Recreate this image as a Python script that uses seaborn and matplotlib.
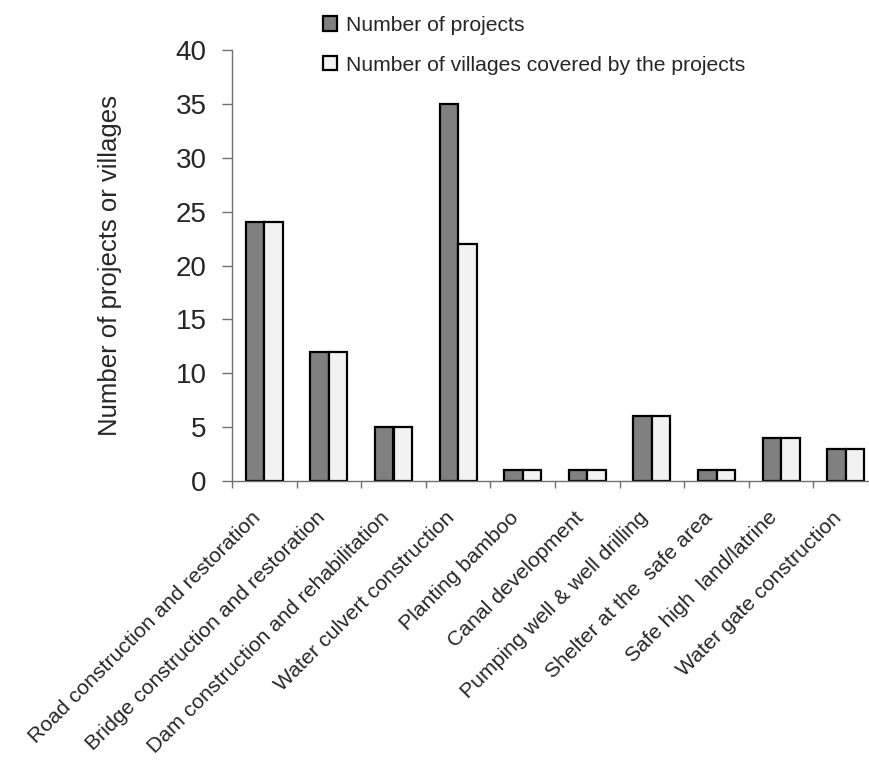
import numpy as np
import pandas as pd
import matplotlib
matplotlib.use("Agg")
import matplotlib.pyplot as plt
import seaborn as sns
from matplotlib.ticker import FixedLocator

categories = [
    "Road construction and restoration",
    "Bridge construction and restoration",
    "Dam construction and rehabilitation",
    "Water culvert construction",
    "Planting bamboo",
    "Canal development",
    "Pumping well & well drilling",
    "Shelter at the  safe area",
    "Safe high  land/latrine",
    "Water gate construction",
]
n_projects = [24, 12, 5, 35, 1, 1, 6, 1, 4, 3]
n_villages = [24, 12, 5, 22, 1, 1, 6, 1, 4, 3]
series_names = ["Number of projects", "Number of villages covered by the projects"]
yticks = [0, 5, 10, 15, 20, 25, 30, 35, 40]

df = pd.DataFrame({
    "activity": categories * 2,
    "count": n_projects + n_villages,
    "series": [series_names[0]] * len(categories) + [series_names[1]] * len(categories),
})

sns.set_theme(style="white")
plt.rcParams["font.family"] = ["Liberation Sans", "DejaVu Sans"]

fig = plt.figure(figsize=(8.69, 7.60), dpi=100)
ax = fig.add_axes([232 / 869, 279 / 760, 646 / 869, 431 / 760])

sns.barplot(
    data=df, x="activity", y="count", hue="series",
    palette=["#808080", "#f2f2f2"], width=0.57, gap=0,
    edgecolor="black", linewidth=1.6, saturation=1, ax=ax,
)

ax.set_xlim(-0.5, len(categories) - 0.5)
ax.set_ylim(0, 40)
ax.set_yticks(yticks)
ax.set_yticklabels([str(v) for v in yticks], fontsize=20)
ax.set_ylabel("Number of projects or villages", fontsize=18.5, labelpad=39)
ax.set_xlabel("")

ax.set_xticks(range(len(categories)))
ax.set_xticklabels(categories, rotation=45, ha="right", va="bottom",
                   rotation_mode="anchor", fontsize=15.3)
ax.xaxis.set_minor_locator(FixedLocator(np.arange(-0.5, len(categories), 1.0)))
ax.tick_params(axis="x", which="major", length=0, pad=29)
ax.tick_params(axis="x", which="minor", length=5, width=1, color="#707070", direction="out", bottom=True)
ax.tick_params(axis="y", length=7.2, width=1, color="#707070", direction="out", left=True, pad=11)

for side in ["top", "right"]:
    ax.spines[side].set_visible(False)
for side in ["left", "bottom"]:
    ax.spines[side].set_color("#707070")
    ax.spines[side].set_linewidth(1)

handles, labels = ax.get_legend_handles_labels()
ax.get_legend().remove()
leg = fig.legend(
    handles, labels, loc="upper left", bbox_to_anchor=(323 / 869, 1 - 16 / 760),
    frameon=False, handlelength=0.66, handleheight=0.66, handletextpad=0.45,
    labelspacing=0.98, borderaxespad=0, borderpad=0,
    prop={"family": "Liberation Sans", "size": 15.2},
)
for h in leg.legend_handles:
    h.set_edgecolor("black")
    h.set_linewidth(1.6)

fig.savefig("out.png", dpi=100)
